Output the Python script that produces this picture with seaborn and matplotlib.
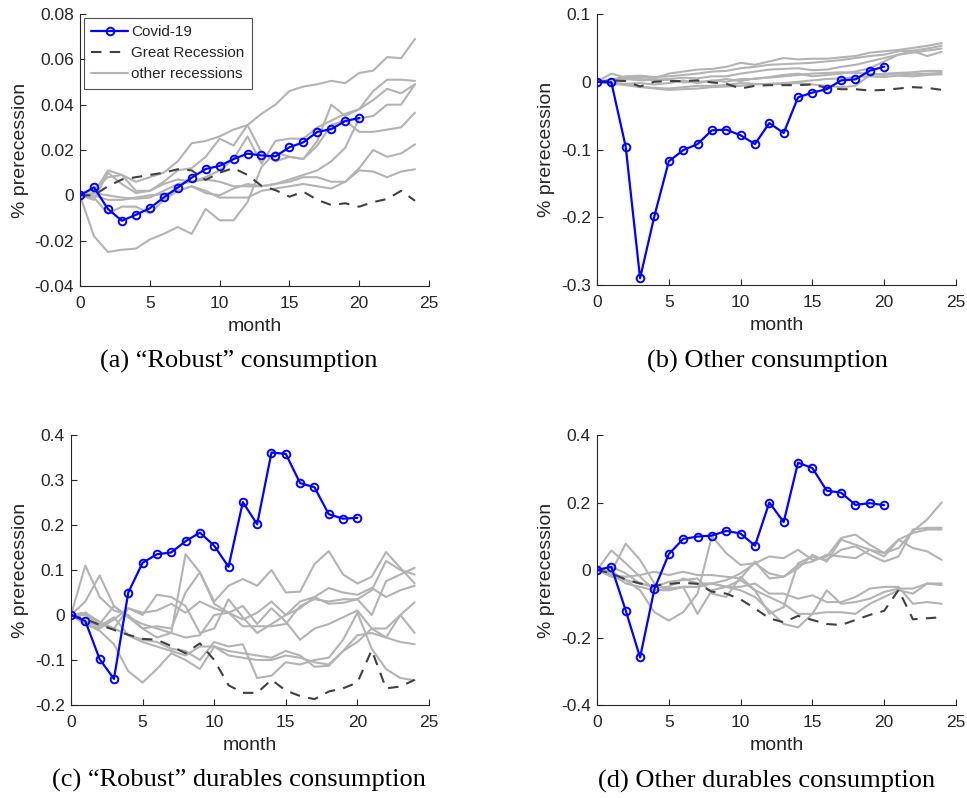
import numpy as np
import pandas as pd
import matplotlib
matplotlib.use("Agg")
import matplotlib.pyplot as plt
import seaborn as sns
from matplotlib.ticker import FuncFormatter, MultipleLocator

months = list(range(25))
covid_months = list(range(21))

# ---------------- Panel (a) "Robust" consumption ----------------
covid_a = [0, 0.0035, -0.006, -0.0112, -0.0086, -0.0057, -0.0009, 0.0034, 0.0078, 0.0116,
           0.013, 0.016, 0.0184, 0.0176, 0.0172, 0.0212, 0.0234, 0.028, 0.0292, 0.0328, 0.0341]
great_a = [0, 0.0, 0.004, 0.007, 0.008, 0.009, 0.010, 0.0115, 0.011, 0.0068, 0.010, 0.012,
           0.009, 0.0042, 0.0023, -0.0006, 0.0016, -0.002, -0.0043, -0.0035, -0.005, -0.003,
           -0.0016, 0.002, -0.0024]
other_a = [
    [0, 0.003, 0.008, 0.009, 0.006, 0.008, 0.010, 0.015, 0.023, 0.024, 0.026, 0.029, 0.031,
     0.036, 0.040, 0.046, 0.048, 0.049, 0.0505, 0.0495, 0.054, 0.055, 0.061, 0.0605, 0.069],
    [0, 0.001, 0.011, 0.009, 0.002, 0.002, 0.006, 0.011, 0.012, 0.017, 0.025, 0.022, 0.031,
     0.019, 0.015, 0.017, 0.016, 0.024, 0.040, 0.035, 0.038, 0.046, 0.051, 0.051, 0.0505],
    [0, -0.002, 0.010, 0.005, 0.001, 0.002, 0.005, 0.007, 0.006, 0.008, 0.011, 0.016, 0.026,
     0.014, 0.024, 0.025, 0.025, 0.030, 0.033, 0.036, 0.038, 0.042, 0.047, 0.045, 0.049],
    [0, -0.018, -0.025, -0.024, -0.0235, -0.0195, -0.017, -0.014, -0.017, -0.006, -0.011,
     -0.011, -0.003, 0.0125, 0.019, 0.017, 0.016, 0.022, 0.031, 0.033, 0.028, 0.028, 0.029,
     0.030, 0.0365],
    [0, -0.001, -0.008, -0.005, -0.005, -0.008, -0.002, 0.002, 0.004, 0.001, 0.0, 0.003,
     0.005, 0.004, 0.005, 0.007, 0.009, 0.011, 0.015, 0.021, 0.034, 0.035, 0.040, 0.040, 0.049],
    [0, 0.0, -0.002, -0.002, -0.001, 0.0, 0.0005, 0.002, 0.004, 0.002, -0.001, -0.001, -0.001,
     0.002, 0.003, 0.004, 0.005, 0.004, 0.003, 0.006, 0.012, 0.020, 0.017, 0.0185, 0.0225],
    [0, 0.001, 0.0, -0.001, -0.0015, -0.001, 0.002, 0.005, 0.006, 0.007, 0.006, 0.004, 0.004,
     0.004, 0.005, 0.006, 0.008, 0.008, 0.006, 0.006, 0.011, 0.0105, 0.008, 0.0105, 0.0115],
]

# ---------------- Panel (b) Other consumption ----------------
covid_b = [0, -0.001, -0.096, -0.290, -0.198, -0.1175, -0.101, -0.092, -0.0717, -0.0707,
           -0.079, -0.092, -0.061, -0.0757, -0.023, -0.016, -0.011, 0.002, 0.0036, 0.0164, 0.0223]
great_b = [0, 0.002, 0.001, -0.007, 0.0, 0.001, 0.001, 0.002, -0.001, -0.003, -0.010, -0.006,
           -0.005, -0.005, -0.005, -0.004, -0.009, -0.011, -0.011, -0.013, -0.012, -0.010,
           -0.008, -0.009, -0.012]
other_b = [
    [0, 0.012, 0.006, 0.007, 0.005, 0.012, 0.015, 0.018, 0.019, 0.022, 0.028, 0.025, 0.030,
     0.035, 0.033, 0.034, 0.034, 0.036, 0.038, 0.043, 0.045, 0.047, 0.050, 0.053, 0.057],
    [0, 0.003, 0.008, 0.009, 0.007, 0.008, 0.010, 0.012, 0.015, 0.016, 0.020, 0.022, 0.025,
     0.026, 0.027, 0.028, 0.030, 0.032, 0.035, 0.038, 0.040, 0.045, 0.046, 0.049, 0.053],
    [0, 0.001, 0.004, 0.002, 0.003, 0.004, 0.006, 0.005, 0.008, 0.008, 0.012, 0.015, 0.018,
     0.019, 0.020, 0.017, 0.018, 0.022, 0.025, 0.030, 0.035, 0.040, 0.043, 0.046, 0.049],
    [0, -0.002, -0.003, -0.002, -0.004, -0.002, 0.002, -0.002, 0.002, 0.0, 0.004, 0.004,
     0.007, 0.010, 0.012, 0.008, 0.010, 0.012, 0.015, 0.020, 0.030, 0.040, 0.045, 0.038, 0.044],
    [0, -0.003, -0.005, -0.008, -0.009, -0.010, -0.008, -0.006, -0.006, -0.005, -0.002,
     -0.003, -0.004, -0.003, -0.002, -0.004, -0.006, -0.008, -0.006, 0.010, 0.012, 0.013,
     0.014, 0.016, 0.016],
    [0, 0.002, 0.005, 0.004, 0.002, 0.003, -0.001, 0.0, 0.001, 0.004, 0.001, 0.005, 0.006,
     0.008, 0.010, 0.012, 0.013, 0.014, 0.013, 0.012, 0.010, 0.012, 0.011, 0.012, 0.013],
    [0, -0.001, -0.004, -0.007, -0.010, -0.012, -0.011, -0.010, -0.008, -0.007, -0.006,
     -0.004, -0.003, -0.002, 0.0, 0.002, 0.004, 0.005, 0.007, 0.008, 0.007, 0.009, 0.008,
     0.010, 0.011],
]

# ---------------- Panel (c) "Robust" durables consumption ----------------
covid_c = [0, -0.0133, -0.098, -0.142, 0.050, 0.116, 0.135, 0.139, 0.164, 0.183, 0.154,
           0.107, 0.251, 0.2015, 0.361, 0.358, 0.293, 0.284, 0.224, 0.214, 0.216]
great_c = [0, -0.009, -0.022, -0.033, -0.044, -0.053, -0.055, -0.069, -0.085, -0.063, -0.100,
           -0.156, -0.173, -0.173, -0.144, -0.168, -0.180, -0.187, -0.170, -0.163, -0.150,
           -0.078, -0.163, -0.159, -0.144]
other_c = [
    [0, 0.11, 0.04, 0.01, 0.0, -0.03, -0.05, -0.04, 0.135, 0.095, 0.03, 0.065, 0.08, 0.065,
     0.10, 0.05, 0.052, 0.113, 0.142, 0.09, 0.07, 0.085, 0.14, 0.105, 0.07],
    [0, 0.03, 0.088, 0.02, -0.005, -0.03, -0.025, -0.03, 0.05, 0.095, 0.025, 0.005, -0.01,
     0.005, 0.03, 0.0, 0.03, 0.04, 0.025, 0.027, 0.035, 0.055, 0.12, 0.10, 0.09],
    [0, 0.0, -0.02, -0.03, 0.015, 0.0, 0.045, 0.04, 0.02, -0.04, -0.03, 0.035, -0.005, -0.04,
     -0.02, 0.0, 0.015, 0.04, 0.06, 0.05, 0.045, 0.06, 0.04, 0.055, 0.065],
    [0, -0.02, -0.03, -0.01, 0.015, 0.005, 0.01, 0.025, 0.005, 0.03, 0.015, 0.005, -0.025,
     -0.025, -0.025, -0.02, 0.02, 0.035, 0.03, 0.035, 0.035, 0.0, 0.075, 0.09, 0.105],
    [0, -0.02, -0.035, -0.065, -0.125, -0.15, -0.12, -0.085, -0.10, -0.12, -0.07, -0.08,
     -0.085, -0.09, -0.095, -0.08, -0.09, -0.115, -0.113, -0.08, -0.06, -0.03, -0.05, 0.0, 0.028],
    [0, 0.005, -0.02, 0.02, -0.005, -0.02, -0.03, -0.04, -0.05, -0.045, 0.0, 0.005, 0.02,
     -0.02, 0.015, -0.015, -0.055, -0.03, -0.02, -0.005, 0.01, -0.03, -0.03, 0.0, -0.04],
    [0, 0.005, -0.015, -0.03, -0.045, -0.055, -0.06, -0.075, -0.08, -0.10, -0.06, -0.07,
     -0.065, -0.14, -0.135, -0.105, -0.11, -0.10, -0.095, -0.055, 0.005, -0.075, -0.12,
     -0.14, -0.145],
    [0, -0.015, -0.025, -0.005, -0.045, -0.06, -0.07, -0.08, -0.09, -0.07, -0.07, -0.09,
     -0.095, -0.10, -0.10, -0.09, -0.095, -0.105, -0.11, -0.08, -0.045, -0.04, -0.05, -0.06,
     -0.065],
]

# ---------------- Panel (d) Other durables consumption ----------------
covid_d = [0, 0.009, -0.12, -0.259, -0.056, 0.047, 0.092, 0.099, 0.102, 0.116, 0.108, 0.072,
           0.200, 0.142, 0.318, 0.302, 0.235, 0.229, 0.193, 0.198, 0.192]
great_d = [0, -0.010, -0.028, -0.040, -0.046, -0.041, -0.038, -0.041, -0.064, -0.070, -0.087,
           -0.114, -0.143, -0.155, -0.136, -0.148, -0.160, -0.163, -0.148, -0.133, -0.121,
           -0.059, -0.146, -0.143, -0.140]
other_d = [
    [0, 0.058, 0.02, -0.02, -0.06, -0.06, -0.05, -0.05, -0.04, -0.03, -0.01, 0.02, 0.04,
     0.035, 0.06, 0.03, 0.04, 0.095, 0.105, 0.075, 0.05, 0.065, 0.115, 0.15, 0.20],
    [0, -0.005, 0.078, 0.03, -0.04, -0.06, -0.05, -0.13, -0.06, -0.05, -0.03, -0.06, -0.13,
     -0.11, 0.02, 0.04, 0.03, 0.06, 0.07, 0.045, 0.025, 0.04, 0.12, 0.125, 0.125],
    [0, -0.02, -0.03, -0.06, -0.125, -0.15, -0.125, -0.07, 0.10, 0.05, 0.015, 0.02, -0.01,
     -0.02, 0.005, 0.045, 0.025, 0.09, 0.075, 0.06, 0.05, 0.09, 0.065, 0.055, 0.03],
    [0, -0.015, -0.02, -0.015, -0.005, -0.015, -0.005, -0.015, -0.015, -0.02, -0.025, 0.025,
     -0.025, -0.02, 0.015, 0.025, 0.045, 0.04, 0.035, 0.06, 0.04, 0.09, 0.11, 0.12, 0.12],
    [0, 0.01, -0.01, -0.04, -0.05, -0.05, -0.025, -0.04, -0.04, -0.05, -0.06, -0.08, -0.12,
     -0.16, -0.17, -0.13, -0.06, -0.10, -0.095, -0.085, -0.065, -0.055, -0.055, -0.04, -0.04],
    [0, -0.005, -0.03, -0.04, -0.05, -0.035, -0.03, -0.025, -0.07, -0.08, -0.02, -0.06,
     -0.08, -0.10, -0.13, -0.13, -0.125, -0.125, -0.13, -0.10, -0.08, -0.06, -0.07, -0.04, -0.045],
    [0, -0.01, -0.04, -0.05, -0.06, -0.055, -0.05, -0.05, -0.04, -0.05, -0.05, -0.04, -0.07,
     -0.07, -0.085, -0.075, -0.095, -0.095, -0.08, -0.055, -0.05, -0.05, -0.10, -0.095, -0.10],
]

captions = ["(a) \u201cRobust\u201d consumption", "(b) Other consumption",
            "(c) \u201cRobust\u201d durables consumption", "(d) Other durables consumption"]
ylims = [(-0.04, 0.08), (-0.3, 0.1), (-0.2, 0.4), (-0.4, 0.4)]
ysteps = [0.02, 0.1, 0.1, 0.2]
legend_labels = ["Covid-19", "Great Recession", "other recessions"]
xlabel = "month"
ylabel = "% prerecession"

sns.set_style("ticks")
plt.rcParams["font.family"] = ["Liberation Sans", "DejaVu Sans"]
plt.rcParams["axes.unicode_minus"] = False

TXT = "#262626"
fig = plt.figure(figsize=(9.67, 7.98), dpi=100)
W, H = 967, 798
boxes = [(80, 14, 429, 286), (597, 14, 956, 285), (71, 435, 429, 705), (597, 435, 956, 705)]
ylab_x = [29, 555, 29, 555]
cap_pos = [(239, 361), (767, 361), (239, 780), (767, 781)]

panels = [(covid_a, great_a, other_a), (covid_b, great_b, other_b),
          (covid_c, great_c, other_c), (covid_d, great_d, other_d)]

fmt = FuncFormatter(lambda v, p: ("%g" % round(v, 6)))

for i, ((cov, gr, oth), (l, t, r, b)) in enumerate(zip(panels, boxes)):
    ax = fig.add_axes([l / W, 1 - b / H, (r - l) / W, (b - t) / H])
    for k, s in enumerate(oth):
        sns.lineplot(x=months, y=s, ax=ax, color="#b3b3b3", linewidth=1.5,
                     label=legend_labels[2] if k == 0 else None, legend=False, zorder=1)
    sns.lineplot(x=months, y=gr, ax=ax, color="#404040", linewidth=1.5,
                 linestyle=(0, (5, 4)), label=legend_labels[1], legend=False,
                 zorder=2)
    sns.lineplot(x=covid_months, y=cov, ax=ax, color="#0000ff", linewidth=1.6,
                 marker="o", markersize=5.5, markerfacecolor="none",
                 markeredgecolor="#0000ff", markeredgewidth=1.4,
                 label=legend_labels[0], legend=False, zorder=3)
    ax.set_xlim(0, 25)
    ax.set_ylim(*ylims[i])
    ax.xaxis.set_major_locator(MultipleLocator(5))
    ax.yaxis.set_major_locator(MultipleLocator(ysteps[i]))
    ax.yaxis.set_major_formatter(fmt)
    ax.xaxis.set_major_formatter(fmt)
    for sp in ["top", "right"]:
        ax.spines[sp].set_visible(False)
    for sp in ["left", "bottom"]:
        ax.spines[sp].set_color(TXT)
        ax.spines[sp].set_linewidth(0.8)
    ax.tick_params(direction="in", length=4, width=0.8, colors=TXT, labelsize=12.5,
                   labelcolor=TXT)
    ax.tick_params(axis="x", pad=7)
    ax.tick_params(axis="y", pad=4.5)
    ax.set_xlabel(xlabel, fontsize=14, color=TXT, labelpad=5)
    ax.set_ylabel(ylabel, fontsize=14, color=TXT)
    ax.yaxis.set_label_coords((ylab_x[i] - l) / (r - l), 0.5)
    cx, cy = cap_pos[i]
    fig.text(cx / W, 1 - cy / H, captions[i], ha="center", va="center",
             fontsize=19, family=["Liberation Serif", "DejaVu Serif"], color="black")
    if i == 0:
        h, lab = ax.get_legend_handles_labels()
        order = [lab.index(x) for x in legend_labels]
        leg = ax.legend([h[o] for o in order], [lab[o] for o in order],
                        loc="upper left", bbox_to_anchor=(0.0, 1.0), fontsize=11,
                        frameon=True, fancybox=False, edgecolor="#262626",
                        handlelength=2.4, handletextpad=0.2, borderpad=0.5,
                        labelspacing=0.45, borderaxespad=0.25)
        leg.get_frame().set_linewidth(0.8)
        for tx in leg.get_texts():
            tx.set_color(TXT)

fig.savefig("out.png", dpi=100)
